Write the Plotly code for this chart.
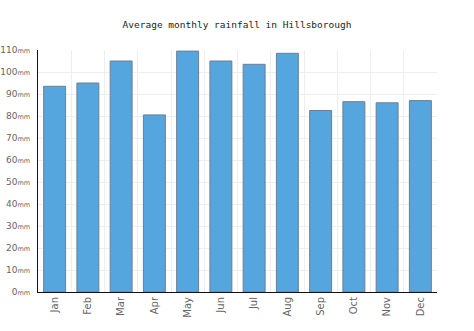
import plotly.graph_objects as go

months = ["Jan", "Feb", "Mar", "Apr", "May", "Jun", "Jul", "Aug", "Sep", "Oct", "Nov", "Dec"]
rainfall_mm = [93.5, 95, 105, 80.5, 109.5, 105, 103.5, 108.5, 82.5, 86.5, 86, 87]
y_ticks = list(range(0, 111, 10))
y_tick_text = [f"{v}<span style='font-size:6.5px'>mm</span>" for v in y_ticks]

fig = go.Figure(
    go.Bar(
        x=months,
        y=rainfall_mm,
        width=0.66,
        marker=dict(color="#55a5de", line=dict(color="#6e7f90", width=1)),
    )
)

fig.update_layout(
    width=474,
    height=331,
    margin=dict(l=38, r=37, t=50, b=39),
    paper_bgcolor="white",
    plot_bgcolor="white",
    showlegend=False,
    title=dict(
        text="Average monthly rainfall in Hillsborough",
        x=0.5,
        xanchor="center",
        y=1 - 25 / 331,
        yanchor="middle",
        font=dict(family="DejaVu Sans Mono", size=9.5, color="#222"),
    ),
)

fig.update_xaxes(
    type="category",
    tickangle=-90,
    tickson="boundaries",
    showgrid=True,
    gridcolor="#eeeeee",
    showline=True,
    linecolor="#111",
    linewidth=1,
    ticks="",
    automargin=False,
    tickfont=dict(family="DejaVu Sans", size=10, color="#666"),
)

fig.update_yaxes(
    range=[0, 110],
    tickmode="array",
    tickvals=y_ticks,
    ticktext=y_tick_text,
    showgrid=True,
    gridcolor="#eeeeee",
    showline=True,
    linecolor="#111",
    linewidth=1,
    ticks="",
    ticklabelstandoff=5,
    zeroline=False,
    automargin=False,
    tickfont=dict(family="DejaVu Sans", size=9, color="#666"),
)

fig.write_html("out.html")
